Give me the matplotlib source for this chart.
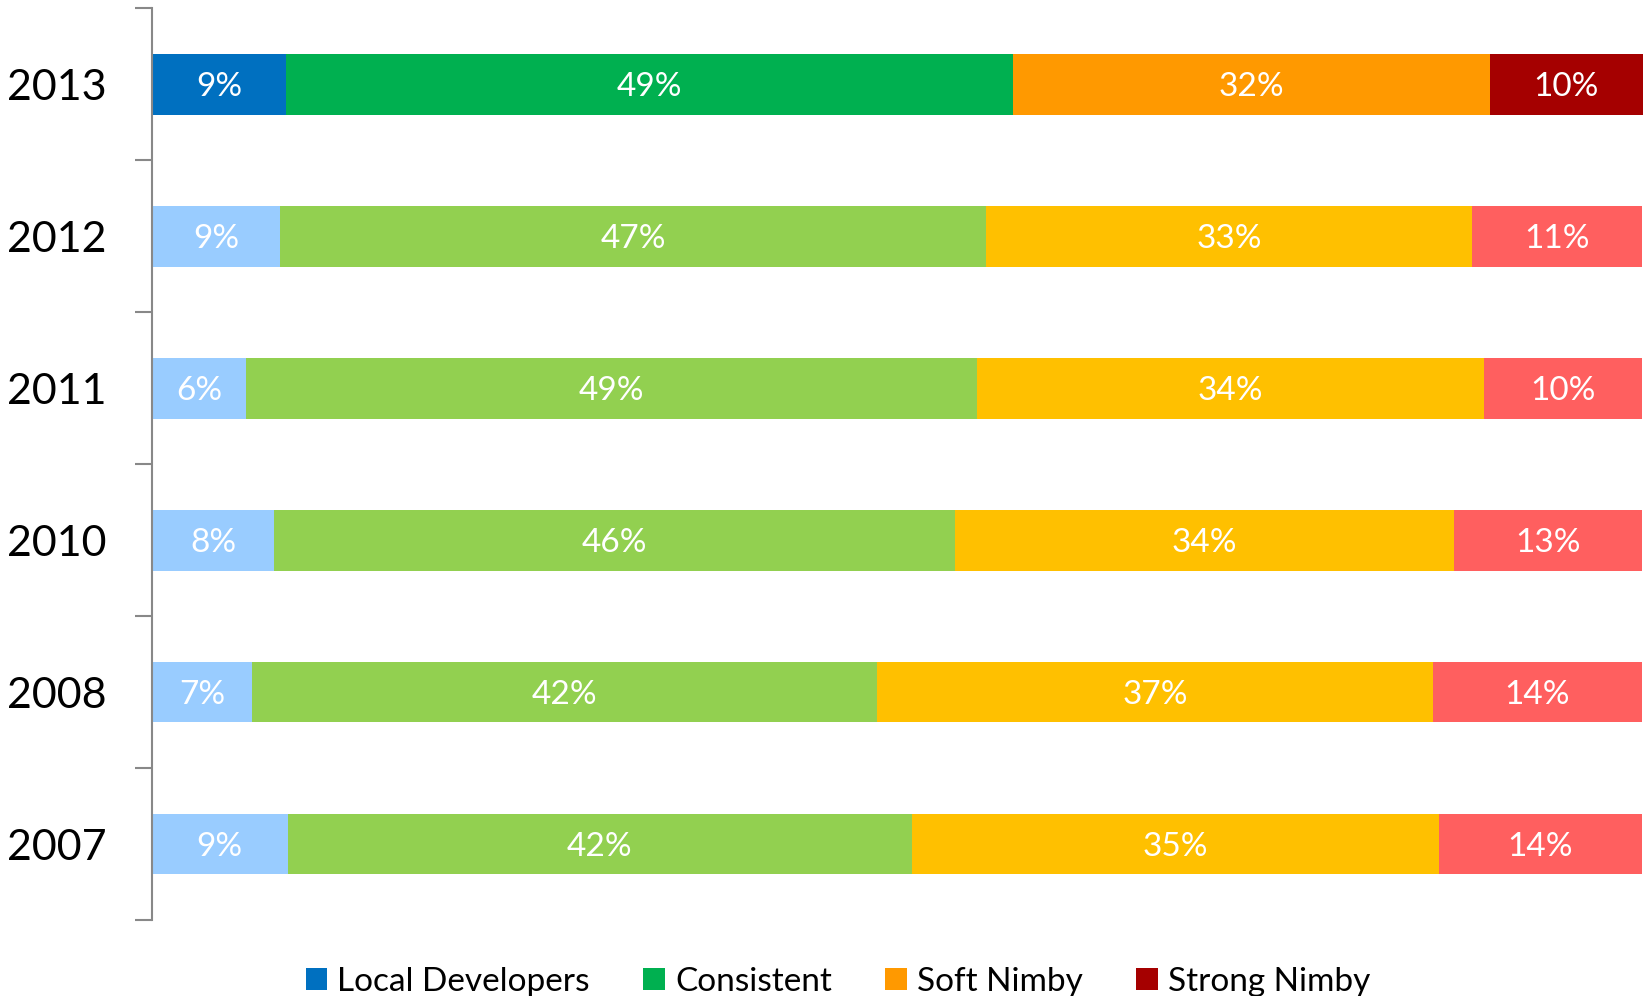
import numpy as np
import matplotlib
matplotlib.use("Agg")
import matplotlib.pyplot as plt
from matplotlib.patches import Patch

plt.rcParams['font.family'] = ['Lato', 'DejaVu Sans']

# Data (top row first, as in the chart)
years = ['2013', '2012', '2011', '2010', '2008', '2007']
series = ['Local Developers', 'Consistent', 'Soft Nimby', 'Strong Nimby']
local_dev = [9.0, 8.6, 6.3, 8.2, 6.7, 9.1]
consistent = [48.8, 47.4, 49.1, 45.7, 42.0, 41.9]
soft_nimby = [32.0, 32.6, 34.0, 33.5, 37.3, 35.4]
strong_nimby = [10.3, 11.4, 10.6, 12.6, 14.0, 13.6]
labels = [
    [9, 9, 6, 8, 7, 9],
    [49, 47, 49, 46, 42, 42],
    [32, 33, 34, 34, 37, 35],
    [10, 11, 10, 13, 14, 14],
]

# 2013 highlighted with darker colours
dark_colors = ['#0070C0', '#00B050', '#FF9900', '#A50000']
light_colors = ['#99CCFF', '#92D050', '#FFC000', '#FF5F5F']

values = [local_dev, consistent, soft_nimby, strong_nimby]

fig = plt.figure(figsize=(16.43, 9.96), dpi=100)
ax = fig.add_axes([0.0925, 0.0763, 0.9075, 0.9153])

n = len(years)
ypos = np.arange(n)[::-1]  # 2013 on top
left = np.zeros(n)
for s_idx, vals in enumerate(values):
    vals = np.array(vals)
    cols = [dark_colors[s_idx] if y == '2013' else light_colors[s_idx] for y in years]
    ax.barh(ypos, vals, left=left, height=0.4, color=cols, edgecolor='none')
    for i in range(n):
        ax.text(left[i] + vals[i] / 2, ypos[i], f"{labels[s_idx][i]}%",
                ha='center', va='center_baseline', color='white', fontsize=24)
    left += vals

total = max(left)
ax.set_xlim(0, total)
ax.set_ylim(-0.5, n - 0.5)

# spines / ticks
for side in ['top', 'right', 'bottom']:
    ax.spines[side].set_visible(False)
ax.spines['left'].set_color('#888888')
ax.spines['left'].set_linewidth(1.5)
ax.set_xticks([])
ax.set_yticks(ypos)
ax.set_yticklabels(years, fontsize=31)
ax.tick_params(axis='y', which='major', length=0, pad=33)
ax.set_yticks(np.arange(-0.5, n, 1.0), minor=True)
ax.tick_params(axis='y', which='minor', length=12, width=1.5, color='#888888')

handles = [Patch(facecolor=c, edgecolor='none') for c in dark_colors]
fig.legend(handles, series, loc='center', bbox_to_anchor=(0.51, 0.014),
           ncol=4, frameon=False, fontsize=24, handlelength=0.65, handleheight=0.65,
           handletextpad=0.3, columnspacing=1.6)

fig.savefig('out.png', dpi=100)
